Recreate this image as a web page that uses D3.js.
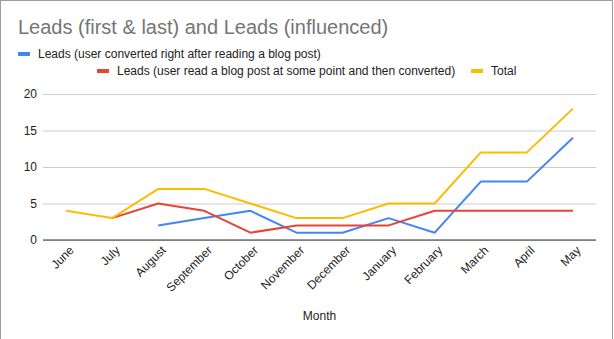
<!DOCTYPE html>
<html>
<head>
<meta charset="utf-8">
<script src="https://cdn.jsdelivr.net/npm/d3@7"></script>
<style>
  html, body { margin: 0; padding: 0; background: #fff; }
  svg { display: block; font-family: "Liberation Sans", Arial, sans-serif; }
</style>
</head>
<body>
<svg id="chart" width="614" height="339"></svg>
<script>
const months = ["June","July","August","September","October","November","December","January","February","March","April","May"];
const leadsFirstLast = [null, null, 2, 3, 4, 1, 1, 3, 1, 8, 8, 14];
const leadsInfluenced = [null, 3, 5, 4, 1, 2, 2, 2, 4, 4, 4, 4];
const total = [4, 3, 7, 7, 5, 3, 3, 5, 5, 12, 12, 18];
const yTicks = [0, 5, 10, 15, 20];
const seriesNames = [
  "Leads (user converted right after reading a blog post)",
  "Leads (user read a blog post at some point and then converted)",
  "Total"
];
const colors = ["#4285F4", "#EA4335", "#FBBC04"];

(function () {
const svg = d3.select("#chart");
const plotLeft = 43, plotRight = 596, plotTop = 94, plotBottom = 240;

svg.append("rect").attr("x", 0.5).attr("y", 0.5).attr("width", 612).attr("height", 345)
  .attr("fill", "#fff").attr("stroke", "#9e9e9e").attr("stroke-width", 1);

const x = d3.scalePoint().domain(months).range([plotLeft, plotRight]).padding(0.5);
const y = d3.scaleLinear().domain([0, 20]).range([plotBottom, plotTop]);

// Title
svg.append("text").attr("x", 18).attr("y", 34).attr("font-size", 20).attr("fill", "#757575")
  .text("Leads (first & last) and Leads (influenced)");

// Legend
const legendItems = [
  {name: seriesNames[0], color: colors[0], sx: 18, ty: 58},
  {name: seriesNames[1], color: colors[1], sx: 97, ty: 75},
  {name: seriesNames[2], color: colors[2], sx: 471, ty: 75}
];
legendItems.forEach(d => {
  svg.append("rect").attr("x", d.sx).attr("y", d.ty - 6).attr("width", 12).attr("height", 4)
    .attr("fill", d.color);
  svg.append("text").attr("x", d.sx + 20).attr("y", d.ty).attr("font-size", 12).attr("fill", "#222")
    .text(d.name);
});

// Gridlines
const grid = svg.append("g").attr("transform", `translate(${plotLeft},0)`)
  .call(d3.axisLeft(y).tickValues(yTicks).tickSize(-(plotRight - plotLeft)).tickFormat(""));
grid.select(".domain").remove();
grid.selectAll("line").attr("stroke", "#cccccc");

// Y tick labels
const yAxis = svg.append("g").attr("transform", `translate(${plotLeft},0)`)
  .call(d3.axisLeft(y).tickValues(yTicks).tickSize(0).tickPadding(6));
yAxis.select(".domain").remove();
yAxis.selectAll("text").attr("font-size", 12).attr("fill", "#222").attr("font-family", "Liberation Sans, Arial, sans-serif");

// Baseline
svg.append("line").attr("x1", plotLeft).attr("x2", plotRight).attr("y1", y(0)).attr("y2", y(0))
  .attr("stroke", "#333").attr("stroke-width", 1);

// X axis labels
const xAxis = svg.append("g").attr("transform", `translate(0,${plotBottom})`)
  .call(d3.axisBottom(x).tickSize(0).tickPadding(0));
xAxis.select(".domain").remove();
xAxis.selectAll("text")
  .attr("font-size", 12).attr("fill", "#222").attr("font-family", "Liberation Sans, Arial, sans-serif")
  .attr("text-anchor", "end").attr("dy", null).attr("y", 0)
  .attr("transform", "translate(8,11) rotate(-45)");

// Axis title
svg.append("text").attr("x", (plotLeft + plotRight) / 2).attr("y", 320).attr("text-anchor", "middle")
  .attr("font-size", 12).attr("fill", "#222").text("Month");

// Lines
const allSeries = [leadsFirstLast, leadsInfluenced, total];
const line = d3.line()
  .defined(d => d.v !== null)
  .x(d => x(d.m)).y(d => y(d.v));
allSeries.forEach((vals, i) => {
  const data = months.map((m, j) => ({m, v: vals[j]}));
  svg.append("path").datum(data).attr("d", line).attr("fill", "none")
    .attr("stroke", colors[i]).attr("stroke-width", 2).attr("stroke-linejoin", "round");
});
})();
</script>
</body>
</html>
